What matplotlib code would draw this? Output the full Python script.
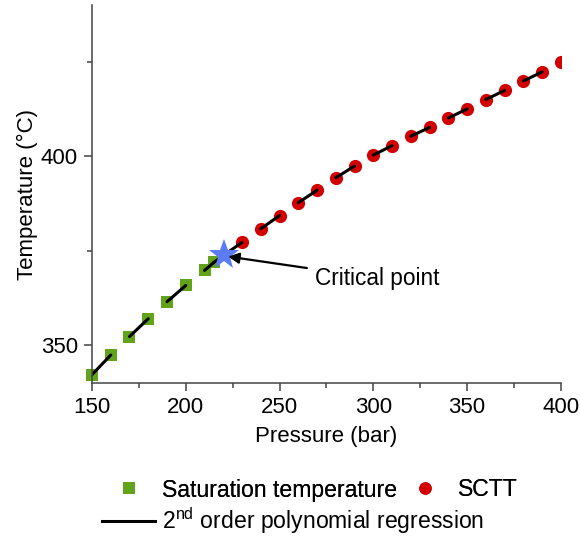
import numpy as np
import matplotlib.pyplot as plt
from matplotlib.lines import Line2D

plt.rcParams['font.family'] = ['Liberation Sans', 'DejaVu Sans']
plt.rcParams['font.size'] = 16

# saturation temperature of water (bar, degC)
p_sat = [150, 160, 170, 180, 190, 200, 210, 215]
t_sat = [342.2, 347.4, 352.3, 357.0, 361.5, 365.8, 369.8, 371.9]

# SCTT points
p_sctt = [230, 240, 250, 260, 270, 280, 290, 300, 310, 320, 330,
          340, 350, 360, 370, 380, 390, 400]
t_sctt = [377.2, 380.8, 384.3, 387.7, 391.0, 394.3, 397.4, 400.3, 402.8, 405.3,
          407.6, 410.1, 412.5, 415.0, 417.4, 419.9, 422.3, 424.8]

# critical point
p_crit = 220.64
t_crit = 373.95

green = '#62a31c'
red = '#d20000'
star = '#5b7cf5'

fig = plt.figure(figsize=(5.8, 5.39), dpi=100)
ax = fig.add_axes([0.1586, 0.2894, 0.8084, 0.7013])

# regression drawn as short pieces between neighbouring points
pairs_x = [(p_sat[i], p_sat[i + 1]) for i in range(0, len(p_sat), 2)]
pairs_y = [(t_sat[i], t_sat[i + 1]) for i in range(0, len(t_sat), 2)]
pairs_x.append((p_crit, p_sctt[0]))
pairs_y.append((t_crit, t_sctt[0]))
for i in range(1, len(p_sctt) - 1, 2):
    pairs_x.append((p_sctt[i], p_sctt[i + 1]))
    pairs_y.append((t_sctt[i], t_sctt[i + 1]))
for xs, ys in zip(pairs_x, pairs_y):
    ax.plot(xs, ys, color='black', lw=2.2, zorder=2, solid_capstyle='round')
ax.plot([p_sat[-1], p_crit], [t_sat[-1], t_crit], color='black', lw=2.2, zorder=2)

ax.plot(p_sat, t_sat, 's', color=green, ms=8.5, mew=0, zorder=1, clip_on=False)
ax.plot(p_sctt, t_sctt, 'o', color=red, ms=9.5, mew=0, zorder=1)
ax.plot(p_crit, t_crit, '*', color=star, ms=23, mew=0, zorder=3)

ax.annotate('Critical point', xy=(p_crit + 2, t_crit - 0.5), xytext=(269, 367.7),
            fontsize=16.3, va='center', ha='left',
            arrowprops=dict(arrowstyle='-|>', color='black', lw=1.6,
                            mutation_scale=16, shrinkA=4, shrinkB=0))

ax.set_xlim(150, 400)
ax.set_ylim(340, 440)
ax.set_xticks([150, 200, 250, 300, 350, 400])
ax.set_xticks([175, 225, 275, 325, 375], minor=True)
ax.set_yticks([350, 400])
ax.set_yticks([375, 425], minor=True)
ax.spines['top'].set_visible(False)
ax.spines['right'].set_visible(False)
for s in ('left', 'bottom'):
    ax.spines[s].set_color('#444444')
    ax.spines[s].set_linewidth(1.1)
ax.tick_params(which='major', direction='out', length=6, width=1.1, color='#444444',
               labelsize=16, pad=4)
ax.tick_params(which='minor', direction='out', length=3.5, width=1.1, color='#444444')
ax.set_xlabel('Pressure (bar)', fontsize=16, labelpad=6)
ax.set_ylabel('Temperature (°C)', fontsize=16, labelpad=2)

h_sat = Line2D([], [], marker='s', color=green, ls='none', ms=8, mew=0)
h_sctt = Line2D([], [], marker='o', color=red, ls='none', ms=9, mew=0)
h_fit = Line2D([], [], color='black', lw=2.2)

leg1 = fig.legend([h_sat, h_sctt], ['Saturation temperature', 'SCTT'],
                  loc='center left', bbox_to_anchor=(0.176, 1 - 490 / 539),
                  ncol=2, frameon=False, fontsize=16.6, handlelength=2.3,
                  handletextpad=0.3, columnspacing=0.05, borderpad=0,
                  borderaxespad=0)
fig.add_artist(leg1)
fig.legend([h_fit], ['2$^{\\mathregular{nd}}$ order polynomial regression'],
           loc='center left', bbox_to_anchor=(0.176, 1 - 521 / 539),
           frameon=False, fontsize=16.6, handlelength=2.3, handletextpad=0.3,
           borderpad=0, borderaxespad=0)

fig.savefig('out.png', dpi=100)
